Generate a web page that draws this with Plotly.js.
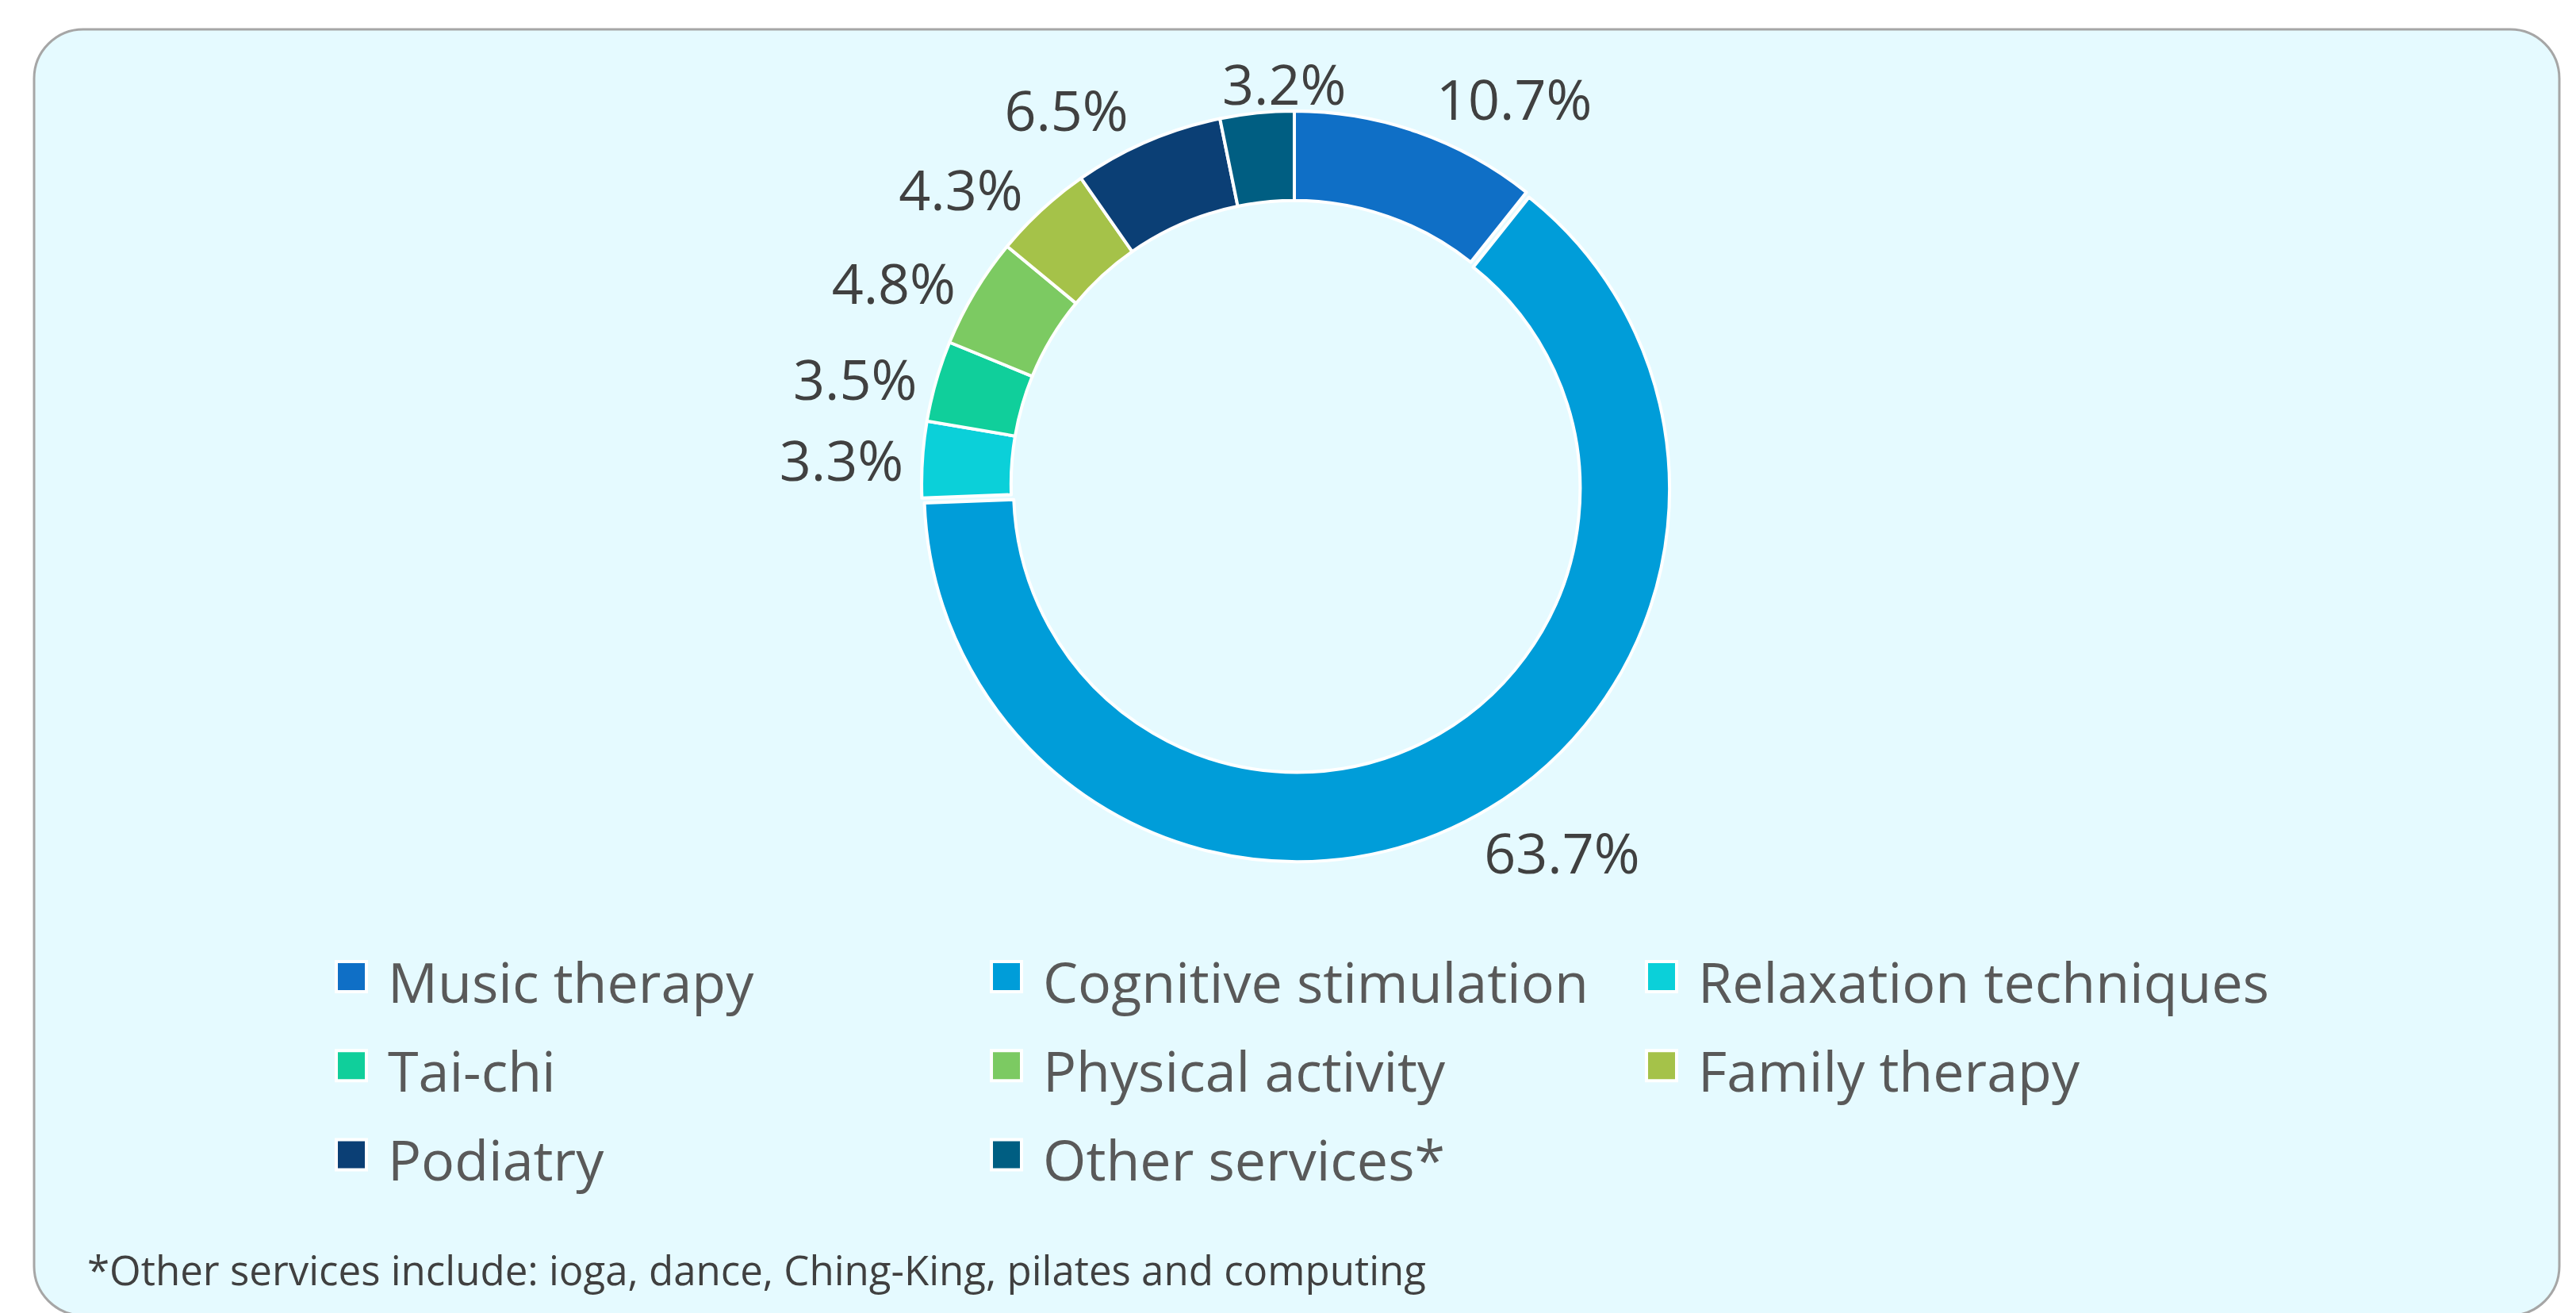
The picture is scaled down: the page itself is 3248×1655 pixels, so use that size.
<!DOCTYPE html>
<html>
<head>
<meta charset="utf-8">
<script src="https://cdn.plot.ly/plotly-3.0.1.min.js"></script>
<style>
  html, body { margin: 0; padding: 0; background: #ffffff; }
  #chart { width: 3248px; height: 1655px; }
</style>
</head>
<body>
<div id="chart"></div>
<script>
// ---- data ----
const categories = ['Music therapy', 'Cognitive stimulation', 'Relaxation techniques', 'Tai-chi',
                    'Physical activity', 'Family therapy', 'Podiatry', 'Other services*'];
const shares = [10.7, 63.7, 3.3, 3.5, 4.8, 4.3, 6.5, 3.2];
const sliceColors = ['#0F6FC6', '#009DD9', '#0BD0D9', '#10CF9B', '#7CCA62', '#A5C249', '#0B3F75', '#005E82'];
const pulls = [0, 0.015, 0, 0, 0, 0, 0, 0];
const footnote = '*Other services include: ioga, dance, Ching-King, pilates and computing';

// ---- layout helpers ----
const W = 3248, H = 1655;
const fx = x => x / W;
const fy = y => 1 - y / H;

const pieDomain = { x: [0.3556, 0.64932], y: [0.3432, 0.91964] };
const CX = (pieDomain.x[0] + pieDomain.x[1]) / 2 * W;
const CY = (1 - (pieDomain.y[0] + pieDomain.y[1]) / 2) * H;
const maxPull = Math.max.apply(null, pulls);
const R_OUT = Math.min((pieDomain.x[1] - pieDomain.x[0]) * W, (pieDomain.y[1] - pieDomain.y[0]) * H) / (2 + 2 * maxPull);

function roundedRectPath(l, t, R, B, r) {
  const k = 0.5523 * r;
  const P = (x, y) => fx(x).toFixed(5) + ',' + fy(y).toFixed(5);
  return 'M' + P(l + r, t) +
    ' L' + P(R - r, t) +
    ' C' + P(R - r + k, t) + ' ' + P(R, t + r - k) + ' ' + P(R, t + r) +
    ' L' + P(R, B - r) +
    ' C' + P(R, B - r + k) + ' ' + P(R - r + k, B) + ' ' + P(R - r, B) +
    ' L' + P(l + r, B) +
    ' C' + P(l + r - k, B) + ' ' + P(l, B - r + k) + ' ' + P(l, B - r) +
    ' L' + P(l, t + r) +
    ' C' + P(l, t + r - k) + ' ' + P(l + r - k, t) + ' ' + P(l + r, t) + ' Z';
}

// the top-most small slice gets its label as an annotation (placed at its data mid-angle)
const topIdx = categories.indexOf('Other services*');
const total = shares.reduce((a, b) => a + b, 0);
const before = shares.slice(0, topIdx).reduce((a, b) => a + b, 0);
const midAng = (before + shares[topIdx] / 2) / total * 2 * Math.PI;
const R_LAB = R_OUT + 38;
const topLabel = {
  text: shares[topIdx].toFixed(1) + '%',
  xref: 'paper', yref: 'paper',
  x: fx(CX + R_LAB * Math.sin(midAng)),
  y: fy(CY - R_LAB * Math.cos(midAng)),
  xanchor: 'center', yanchor: 'middle',
  xshift: 38,
  showarrow: false,
  font: { family: 'Open Sans', size: 70, color: '#404040' }
};

const trace = {
  type: 'pie',
  labels: categories.map(c => '<span style="font-size:70px">' + c + '</span>'),
  values: shares,
  sort: false,
  direction: 'clockwise',
  rotation: 0,
  hole: 0.76,
  pull: pulls,
  marker: { colors: sliceColors, line: { color: '#ffffff', width: 4 } },
  textposition: categories.map((c, i) => i === topIdx ? 'none' : 'outside'),
  texttemplate: '%{value:.1f}%',
  textfont: { family: 'Open Sans', size: 70, color: '#404040' },
  outsidetextfont: { family: 'Open Sans', size: 70, color: '#404040' },
  domain: pieDomain,
  hoverinfo: 'label+percent',
  showlegend: true
};

const layout = {
  width: W,
  height: H,
  margin: { l: 0, r: 0, t: 0, b: 0 },
  paper_bgcolor: '#ffffff',
  font: { family: 'Open Sans', color: '#595959' },
  showlegend: true,
  legend: {
    orientation: 'h',
    x: 397 / W,
    xanchor: 'left',
    y: fy(1170),
    yanchor: 'top',
    bgcolor: 'rgba(0,0,0,0)',
    borderwidth: 0,
    itemwidth: 82,
    entrywidth: 729,
    entrywidthmode: 'pixels',
    font: { family: 'Open Sans', size: 84, color: '#595959' },
    traceorder: 'normal'
  },
  shapes: [{
    type: 'path',
    xref: 'paper', yref: 'paper',
    path: roundedRectPath(43, 37, 3227, 1658, 62),
    fillcolor: '#E5FAFF',
    line: { color: '#A6A6A6', width: 3 },
    layer: 'below'
  }],
  annotations: [topLabel, {
    text: footnote,
    xref: 'paper', yref: 'paper',
    x: 108 / W, y: fy(1600),
    xanchor: 'left', yanchor: 'middle',
    showarrow: false,
    font: { family: 'Open Sans', size: 51, color: '#404040' }
  }]
};

Plotly.newPlot('chart', [trace], layout, { displayModeBar: false, staticPlot: true }).then(function () {
  document.querySelectorAll('.legend path.legendpie').forEach(function (p) {
    p.setAttribute('d', 'M19,19H-19V-19H19Z');
  });
});
</script>
</body>
</html>
